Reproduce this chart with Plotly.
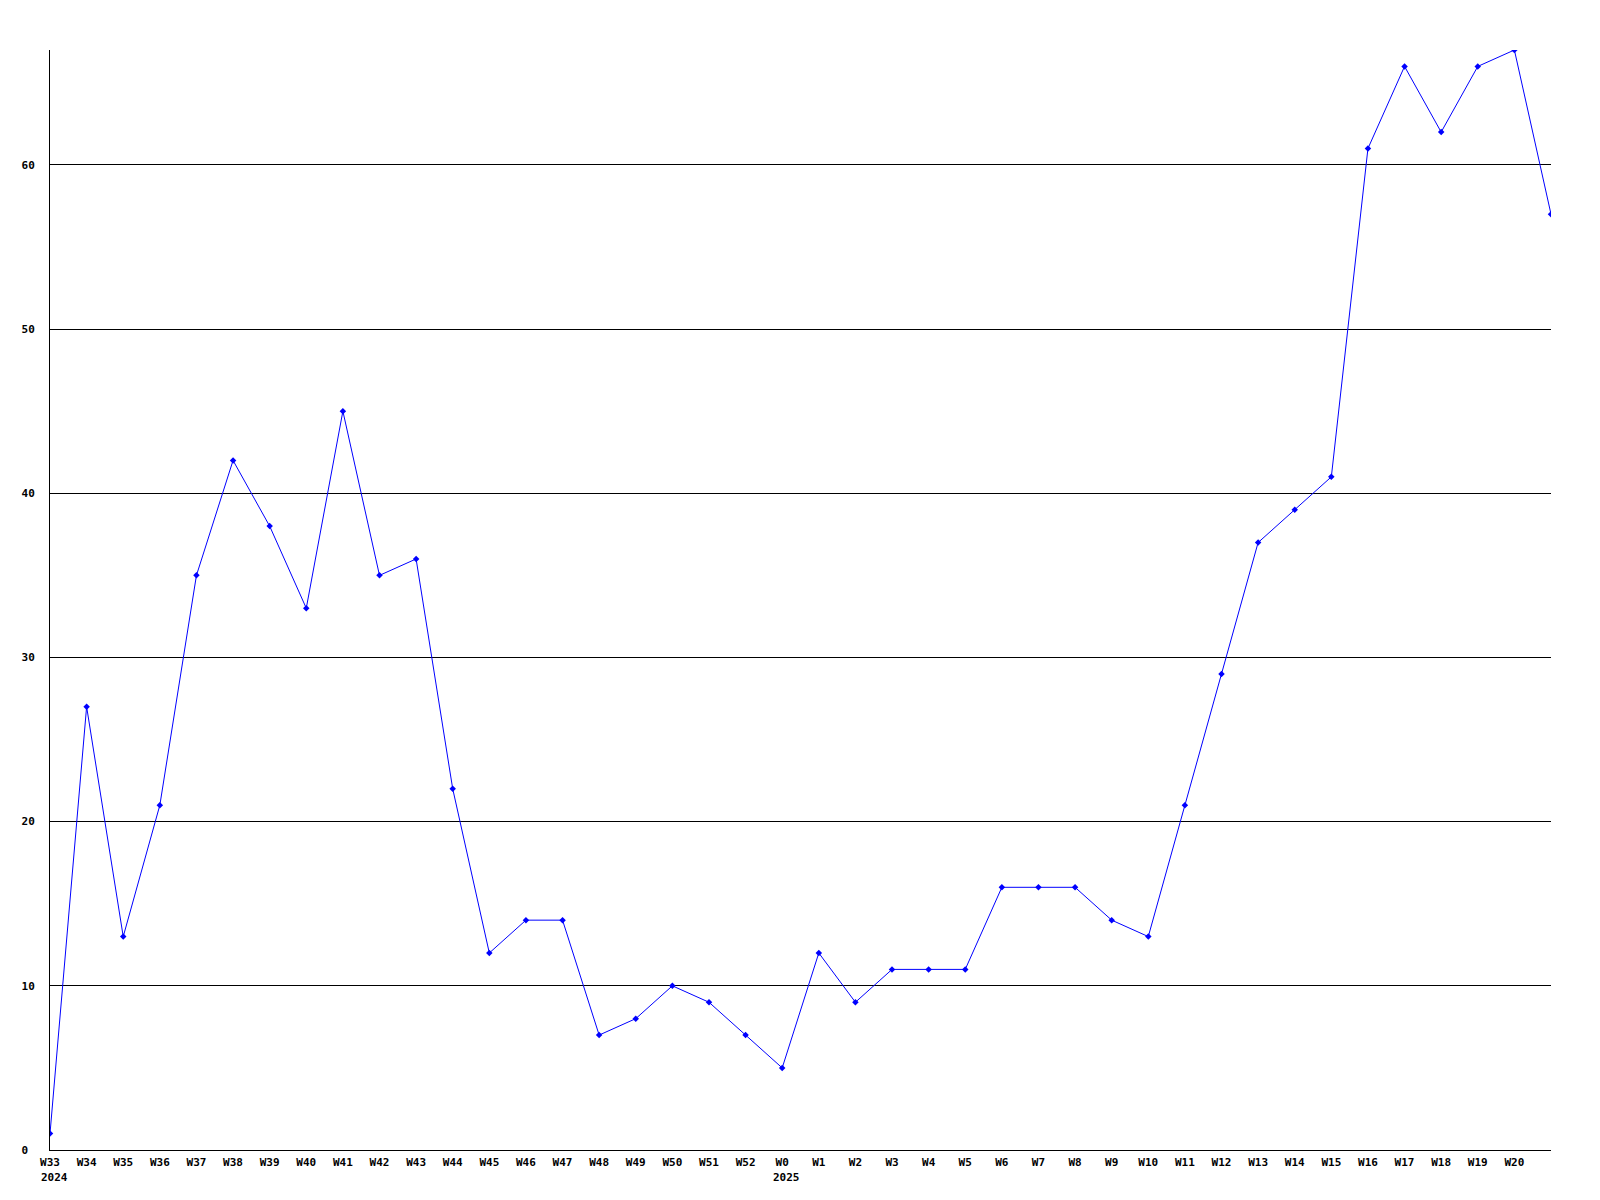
import plotly.graph_objects as go

weeks = ["W33", "W34", "W35", "W36", "W37", "W38", "W39", "W40", "W41", "W42",
         "W43", "W44", "W45", "W46", "W47", "W48", "W49", "W50", "W51", "W52",
         "W0", "W1", "W2", "W3", "W4", "W5", "W6", "W7", "W8", "W9", "W10",
         "W11", "W12", "W13", "W14", "W15", "W16", "W17", "W18", "W19", "W20", "W21"]
values = [1, 27, 13, 21, 35, 42, 38, 33, 45, 35,
          36, 22, 12, 14, 14, 7, 8, 10, 9, 7,
          5, 12, 9, 11, 11, 11, 16, 16, 16, 14, 13,
          21, 29, 37, 39, 41, 61, 66, 62, 66, 67, 57]
year_labels = {"W33": "2024", "W0": "2025"}
y_ticks = [0, 10, 20, 30, 40, 50, 60]

x = list(range(len(weeks)))
font = dict(family="DejaVu Sans Mono", size=11, color="black", weight="bold")

fig = go.Figure()
fig.add_trace(go.Scatter(
    x=x, y=values, mode="lines+markers",
    line=dict(color="#0000ff", width=1),
    marker=dict(symbol="diamond", size=5, color="#0000ff"),
    hoverinfo="skip",
))

for wk, yr in year_labels.items():
    fig.add_annotation(
        x=weeks.index(wk), y=0, xref="x", yref="paper",
        text=yr, showarrow=False, xanchor="left", yanchor="top",
        xshift=-11, yshift=-19, font=font,
    )

fig.update_layout(
    width=1584, height=1184,
    margin=dict(l=42, r=41, t=42, b=42),
    plot_bgcolor="white", paper_bgcolor="white",
    showlegend=False,
    font=font,
)
fig.update_xaxes(
    range=[0, len(weeks) - 1],
    tickmode="array", tickvals=x[:-1], ticktext=weeks[:-1],
    showgrid=False, zeroline=False,
    showline=True, linecolor="black", linewidth=1,
    ticks="", tickfont=font, ticklabelstandoff=2,
)
fig.update_yaxes(
    range=[0, max(values)],
    tickmode="array", tickvals=y_ticks,
    ticktext=[(str(v) + "\u00a0") if v < 10 else str(v) for v in y_ticks],
    showgrid=True, gridcolor="black", gridwidth=1,
    zeroline=False,
    showline=True, linecolor="black", linewidth=1,
    ticks="", tickfont=font, ticklabelstandoff=12,
)

fig.write_html("out.html")
